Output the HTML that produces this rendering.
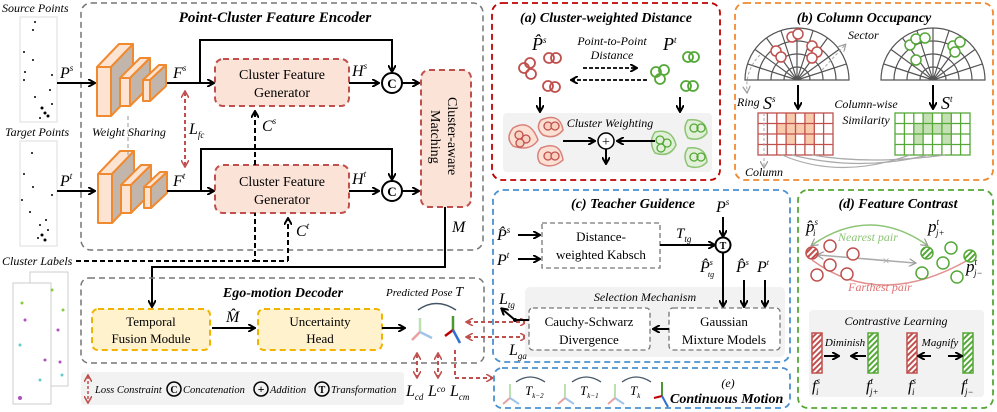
<!DOCTYPE html>
<html><head><meta charset="utf-8"><style>
html,body{margin:0;padding:0;background:#fff}
svg{display:block;font-family:"Liberation Serif",serif}
.i{font-style:italic}
.t{font-style:italic;font-weight:bold}
</style></head><body>
<svg width="997" height="412" viewBox="0 0 997 412" xmlns="http://www.w3.org/2000/svg">
<defs>
<marker id="a" markerWidth="8" markerHeight="8" refX="6" refY="4" orient="auto" markerUnits="userSpaceOnUse"><path d="M0,0 L7,4 L0,8" fill="none" stroke="#000" stroke-width="2"/></marker>
<marker id="r" markerWidth="8" markerHeight="8" refX="6" refY="4" orient="auto-start-reverse" markerUnits="userSpaceOnUse"><path d="M0,0 L7,4 L0,8" fill="none" stroke="#c0504d" stroke-width="1.6"/></marker>
<marker id="g" markerWidth="8" markerHeight="8" refX="6" refY="4" orient="auto-start-reverse" markerUnits="userSpaceOnUse"><path d="M0,0 L7,4 L0,8" fill="none" stroke="#999" stroke-width="1.2"/></marker>
<pattern id="hr" width="4" height="4" patternUnits="userSpaceOnUse" patternTransform="rotate(45)"><rect width="4" height="4" fill="#fff"/><rect width="2" height="4" fill="#c0504d"/></pattern>
<pattern id="hg" width="4" height="4" patternUnits="userSpaceOnUse" patternTransform="rotate(45)"><rect width="4" height="4" fill="#fff"/><rect width="2" height="4" fill="#55a838"/></pattern>
</defs>

<!-- Encoder -->
<rect x="81" y="3" width="402" height="247" rx="10" fill="none" stroke="#777" stroke-width="1.5" stroke-dasharray="6,4"/>
<text x="275" y="22" text-anchor="middle" class="t" font-size="15">Point-Cluster Feature Encoder</text>
<text x="2" y="12" class="i" font-size="12">Source Points</text>
<text x="5" y="136" class="i" font-size="12">Target Points</text>
<rect x="20" y="17" width="37" height="105" fill="#fff" stroke="#ddd"/>
<rect x="20" y="141" width="37" height="105" fill="#fff" stroke="#ddd"/>
<g fill="#000">
<circle cx="35" cy="22" r="1"/><circle cx="33" cy="30" r="1"/><circle cx="24" cy="52" r="1"/><circle cx="33" cy="60" r="1"/><circle cx="25" cy="72" r="1"/><circle cx="24" cy="80" r="1"/><circle cx="52" cy="75" r="1"/><circle cx="50" cy="90" r="1"/><circle cx="35" cy="97" r="1"/><circle cx="42" cy="108" r="1.5"/><circle cx="45" cy="113" r="1.5"/><circle cx="48" cy="116" r="1.5"/><circle cx="40" cy="118" r="1"/><circle cx="52" cy="104" r="1"/>
<circle cx="32" cy="153" r="1"/><circle cx="24" cy="174" r="1"/><circle cx="33" cy="187" r="1"/><circle cx="22" cy="200" r="1"/><circle cx="52" cy="195" r="1"/><circle cx="30" cy="212" r="1"/><circle cx="46" cy="220" r="1"/><circle cx="40" cy="225" r="1"/><circle cx="42" cy="235" r="1.5"/><circle cx="45" cy="240" r="1.5"/><circle cx="38" cy="238" r="1"/><circle cx="48" cy="230" r="1"/>
</g>
<text x="60" y="78" class="i" font-size="16">P<tspan font-size="9" dy="-7">s</tspan></text>
<text x="60" y="186" class="i" font-size="16">P<tspan font-size="9" dy="-7">t</tspan></text>
<line x1="57" y1="83" x2="94" y2="83" stroke="#000" stroke-width="2" marker-end="url(#a)"/>
<line x1="57" y1="191" x2="94" y2="191" stroke="#000" stroke-width="2" marker-end="url(#a)"/>
<g stroke="#f08a30" stroke-width="2" stroke-linejoin="round">
<g id="cnn">
<rect x="97" y="67" width="14" height="49" fill="#fde3d2"/><polygon points="97,67 119,44 133,44 111,67" fill="#fde3d2"/><polygon points="111,67 133,44 133,93 111,116" fill="#c2b5ab"/>
<rect x="120" y="78" width="10" height="28" fill="#fde3d2"/><polygon points="120,78 140,58 150,58 130,78" fill="#fde3d2"/><polygon points="130,78 150,58 150,86 130,106" fill="#c2b5ab"/>
<rect x="143" y="80" width="7" height="21" fill="#fde3d2"/><polygon points="143,80 159,65 166,65 150,80" fill="#fde3d2"/><polygon points="150,80 166,65 166,86 150,101" fill="#c2b5ab"/>
</g>
<use href="#cnn" transform="translate(1,107)"/>
</g>
<line x1="128" y1="116" x2="128" y2="155" stroke="#999" stroke-dasharray="4,3"/>
<text x="92" y="136" class="i" font-size="12">Weight Sharing</text>
<line x1="167" y1="83" x2="213" y2="83" stroke="#000" stroke-width="2" marker-end="url(#a)"/>
<line x1="167" y1="191" x2="213" y2="191" stroke="#000" stroke-width="2" marker-end="url(#a)"/>
<text x="173" y="78" class="i" font-size="16">F<tspan font-size="9" dy="-7">s</tspan></text>
<text x="173" y="186" class="i" font-size="16">F<tspan font-size="9" dy="-7">t</tspan></text>
<polyline points="200,83 200,40 392,40 392,71" fill="none" stroke="#000" stroke-width="2" marker-end="url(#a)"/>
<polyline points="201,191 201,149 392,149 392,179" fill="none" stroke="#000" stroke-width="2" marker-end="url(#a)"/>
<line x1="185" y1="92" x2="185" y2="166" stroke="#c0504d" stroke-width="2" stroke-dasharray="4,3" marker-start="url(#r)" marker-end="url(#r)"/>
<text x="189" y="134" class="i" font-size="16">L<tspan font-size="9" dy="4">fc</tspan></text>
<rect x="215" y="59" width="134" height="47" rx="8" fill="#fbe3d8" stroke="#c0504d" stroke-width="2" stroke-dasharray="6,4"/>
<text x="282" y="79" text-anchor="middle" font-size="14">Cluster Feature</text><text x="282" y="97" text-anchor="middle" font-size="14">Generator</text>
<rect x="215" y="165" width="134" height="48" rx="8" fill="#fbe3d8" stroke="#c0504d" stroke-width="2" stroke-dasharray="6,4"/>
<text x="282" y="186" text-anchor="middle" font-size="14">Cluster Feature</text><text x="282" y="204" text-anchor="middle" font-size="14">Generator</text>
<line x1="255" y1="165" x2="255" y2="112" stroke="#000" stroke-width="2" stroke-dasharray="5,3" marker-end="url(#a)"/>
<text x="262" y="131" class="i" font-size="16">C<tspan font-size="9" dy="-7">s</tspan></text>
<line x1="288" y1="261" x2="288" y2="219" stroke="#000" stroke-width="2" stroke-dasharray="5,3" marker-end="url(#a)"/>
<text x="296" y="236" class="i" font-size="16">C<tspan font-size="9" dy="-7">t</tspan></text>
<polyline points="76,261 255,261 255,213" fill="none" stroke="#000" stroke-width="2" stroke-dasharray="5,3"/>
<line x1="255" y1="261" x2="288" y2="261" stroke="#000" stroke-width="2" stroke-dasharray="5,3"/>
<text x="2" y="265" class="i" font-size="12">Cluster Labels</text>
<line x1="349" y1="83" x2="378" y2="83" stroke="#000" stroke-width="2" marker-end="url(#a)"/>
<line x1="349" y1="191" x2="378" y2="191" stroke="#000" stroke-width="2" marker-end="url(#a)"/>
<text x="352" y="76" class="i" font-size="16">H<tspan font-size="9" dy="-7">s</tspan></text>
<text x="352" y="184" class="i" font-size="16">H<tspan font-size="9" dy="-7">t</tspan></text>
<circle cx="392" cy="83" r="10" fill="#fff" stroke="#000" stroke-width="2"/><text x="392" y="88" text-anchor="middle" font-size="13" font-weight="bold">C</text>
<circle cx="392" cy="191" r="10" fill="#fff" stroke="#000" stroke-width="2"/><text x="392" y="196" text-anchor="middle" font-size="13" font-weight="bold">C</text>
<line x1="402" y1="83" x2="418" y2="83" stroke="#000" stroke-width="2" marker-end="url(#a)"/>
<line x1="402" y1="191" x2="418" y2="191" stroke="#000" stroke-width="2" marker-end="url(#a)"/>
<rect x="421" y="70" width="50" height="137" rx="8" fill="#fbe3d8" stroke="#c0504d" stroke-width="2" stroke-dasharray="6,4"/>
<text transform="translate(448,97) rotate(90)" font-size="14">Cluster-aware</text>
<text transform="translate(431,110) rotate(90)" font-size="14">Matching</text>
<polyline points="445,207 445,267 152,267 152,306" fill="none" stroke="#000" stroke-width="2" marker-end="url(#a)"/>
<text x="452" y="232" class="i" font-size="16">M</text>

<!-- Cluster label images -->
<rect x="30" y="272" width="38" height="114" fill="#fff" stroke="#ccc"/>
<rect x="13" y="283" width="38" height="121" fill="#fff" stroke="#ccc"/>
<g fill="#b04fc0"><circle cx="25" cy="320" r="1.5"/><circle cx="45" cy="360" r="1.5"/><circle cx="58" cy="330" r="1.5"/><circle cx="20" cy="398" r="2"/><circle cx="60" cy="362" r="1.5"/></g>
<g fill="#6cc"><circle cx="20" cy="345" r="1.5"/><circle cx="40" cy="380" r="1.5"/><circle cx="62" cy="375" r="1.5"/></g>
<g fill="#8c4"><circle cx="52" cy="290" r="1.5"/><circle cx="22" cy="303" r="1.5"/><circle cx="63" cy="310" r="1.5"/></g>

<!-- Decoder -->
<rect x="81" y="278" width="403" height="85" rx="8" fill="none" stroke="#777" stroke-width="1.5" stroke-dasharray="6,4"/>
<text x="283" y="297" text-anchor="middle" class="t" font-size="14">Ego-motion Decoder</text>
<rect x="92" y="309" width="118" height="41" rx="6" fill="#fff2cc" stroke="#f0b400" stroke-width="2" stroke-dasharray="6,4"/>
<text x="151" y="326" text-anchor="middle" font-size="13">Temporal</text><text x="151" y="343" text-anchor="middle" font-size="13">Fusion Module</text>
<rect x="258" y="309" width="124" height="41" rx="6" fill="#fff2cc" stroke="#f0b400" stroke-width="2" stroke-dasharray="6,4"/>
<text x="320" y="326" text-anchor="middle" font-size="13">Uncertainty</text><text x="320" y="343" text-anchor="middle" font-size="13">Head</text>
<line x1="212" y1="328" x2="254" y2="328" stroke="#000" stroke-width="2" marker-end="url(#a)"/>
<text x="226" y="322" class="i" font-size="16">M̂</text>
<line x1="382" y1="328" x2="404" y2="328" stroke="#000" stroke-width="2" marker-end="url(#a)"/>
<text x="386" y="296" class="i" font-size="11">Predicted Pose <tspan font-size="14">T</tspan></text>
<path d="M418,310 Q436,297 456,310" fill="none" stroke="#456" stroke-width="1.5"/>
<g stroke-width="2.5">
<line x1="420" y1="332" x2="420" y2="318" stroke="#bde0b0"/><line x1="420" y1="332" x2="412" y2="340" stroke="#e8a0a0"/><line x1="420" y1="332" x2="432" y2="338" stroke="#a0c4ea"/>
<line x1="453" y1="330" x2="453" y2="316" stroke="#4a9a30"/><line x1="453" y1="330" x2="445" y2="336" stroke="#c00000"/><line x1="453" y1="330" x2="460" y2="343" stroke="#2e6fcf"/>
</g>
<line x1="467" y1="322" x2="526" y2="322" stroke="#c0504d" stroke-width="2" stroke-dasharray="4,3" marker-start="url(#r)" marker-end="url(#r)"/>
<line x1="467" y1="337" x2="526" y2="337" stroke="#c0504d" stroke-width="2" stroke-dasharray="4,3" marker-start="url(#r)" marker-end="url(#r)"/>
<line x1="417" y1="354" x2="417" y2="377" stroke="#c0504d" stroke-width="2" stroke-dasharray="4,3" marker-start="url(#r)" marker-end="url(#r)"/>
<line x1="438" y1="354" x2="438" y2="377" stroke="#c0504d" stroke-width="2" stroke-dasharray="4,3" marker-start="url(#r)" marker-end="url(#r)"/>
<polyline points="455,350 455,378 492,378" fill="none" stroke="#c0504d" stroke-width="2" stroke-dasharray="4,3" marker-end="url(#r)"/>
<text x="406" y="396" class="i" font-size="16">L<tspan font-size="9" dy="4">cd</tspan></text>
<text x="428" y="396" class="i" font-size="16">L<tspan font-size="9" dy="-4">co</tspan></text>
<text x="450" y="396" class="i" font-size="16">L<tspan font-size="9" dy="4">cm</tspan></text>

<!-- Legend -->
<rect x="81" y="372" width="323" height="33" rx="3" fill="#f2f2f2"/>
<line x1="88" y1="376" x2="88" y2="402" stroke="#c0504d" stroke-width="1.5" stroke-dasharray="3,2" marker-start="url(#r)" marker-end="url(#r)"/>
<text x="95" y="393" class="i" font-size="10.5">Loss Constraint</text>
<circle cx="174" cy="389" r="7" fill="none" stroke="#000" stroke-width="1.5"/><text x="174" y="393" text-anchor="middle" font-size="10" font-weight="bold">C</text>
<text x="183" y="393" class="i" font-size="10.5">Concatenation</text>
<circle cx="261" cy="389" r="7" fill="none" stroke="#000" stroke-width="1.5"/><text x="261" y="393" text-anchor="middle" font-size="12" font-weight="bold">+</text>
<text x="270" y="393" class="i" font-size="10.5">Addition</text>
<circle cx="322" cy="389" r="7" fill="none" stroke="#000" stroke-width="1.5"/><text x="322" y="393" text-anchor="middle" font-size="10" font-weight="bold">T</text>
<text x="331" y="393" class="i" font-size="10.5">Transformation</text>

<!-- (a) -->
<rect x="492" y="3" width="228" height="177" rx="10" fill="none" stroke="#c00000" stroke-width="1.8" stroke-dasharray="6,4"/>
<text x="606" y="22" text-anchor="middle" class="t" font-size="14" font-weight="normal">(a) Cluster-weighted Distance</text>
<text x="532" y="50" class="i" font-size="18">P̂<tspan font-size="9" dy="-7">s</tspan></text>
<text x="663" y="50" class="i" font-size="18">P<tspan font-size="9" dy="-7">t</tspan></text>
<text x="612" y="45" text-anchor="middle" class="i" font-size="12">Point-to-Point</text>
<text x="612" y="59" text-anchor="middle" class="i" font-size="12">Distance</text>
<line x1="583" y1="68" x2="636" y2="68" stroke="#000" stroke-width="1.8" stroke-dasharray="4,2" marker-end="url(#a)"/>
<line x1="647" y1="80" x2="572" y2="80" stroke="#000" stroke-width="1.8" stroke-dasharray="4,2" marker-end="url(#a)"/>
<g fill="none" stroke="#c0504d" stroke-width="1.8">
<circle cx="524" cy="68" r="5"/><circle cx="530" cy="63" r="5"/><circle cx="531" cy="74" r="5"/><circle cx="549" cy="58" r="5"/><circle cx="556" cy="58" r="5"/><circle cx="548" cy="86" r="5"/><circle cx="555" cy="87" r="5"/>
</g>
<g fill="none" stroke="#55a838" stroke-width="1.8">
<circle cx="688" cy="57" r="5"/><circle cx="694" cy="57" r="5"/><circle cx="656" cy="72" r="5"/><circle cx="664" cy="70" r="5"/><circle cx="660" cy="79" r="5"/><circle cx="686" cy="86" r="5"/><circle cx="693" cy="86" r="5"/>
</g>
<line x1="540" y1="97" x2="540" y2="111" stroke="#000" stroke-width="2" marker-end="url(#a)"/>
<line x1="680" y1="97" x2="680" y2="111" stroke="#000" stroke-width="2" marker-end="url(#a)"/>
<rect x="503" y="113" width="209" height="59" rx="4" fill="#f2f2f2"/>
<text x="610" y="127" text-anchor="middle" class="i" font-size="12">Cluster Weighting</text>
<g fill="#fce0d4" stroke="#d9827a" stroke-width="1.5">
<path d="M513,128 Q530,118 538,140 Q530,152 513,146 Q505,138 513,128Z"/><path d="M541,120 Q560,112 563,130 Q555,140 543,135 Q535,128 541,120Z"/><path d="M541,148 Q560,140 563,160 Q552,170 540,163 Q535,155 541,148Z"/>
</g>
<g fill="#f8d0c0" stroke="#c0504d" stroke-width="1.3">
<circle cx="519" cy="135" r="4"/><circle cx="526" cy="139" r="4"/><circle cx="520" cy="143" r="4"/><circle cx="548" cy="126" r="4"/><circle cx="555" cy="126" r="4"/><circle cx="548" cy="156" r="4"/><circle cx="555" cy="156" r="4"/>
</g>
<g fill="#e2f0da" stroke="#8cc474" stroke-width="1.5">
<path d="M655,132 Q672,128 676,145 Q670,158 655,153 Q648,142 655,132Z"/><path d="M688,120 Q706,118 707,133 Q700,142 688,138 Q682,128 688,120Z"/><path d="M688,148 Q706,146 707,162 Q700,170 688,166 Q682,156 688,148Z"/>
</g>
<g fill="none" stroke="#55a838" stroke-width="1.3">
<circle cx="660" cy="140" r="4"/><circle cx="667" cy="143" r="4"/><circle cx="661" cy="148" r="4"/><circle cx="694" cy="128" r="4"/><circle cx="701" cy="128" r="4"/><circle cx="694" cy="157" r="4"/><circle cx="701" cy="157" r="4"/>
</g>
<line x1="563" y1="141" x2="594" y2="141" stroke="#000" stroke-width="2" marker-end="url(#a)"/>
<line x1="655" y1="141" x2="618" y2="141" stroke="#000" stroke-width="2" marker-end="url(#a)"/>
<circle cx="606" cy="141" r="8" fill="#fff" stroke="#000" stroke-width="1.5"/><text x="606" y="146" text-anchor="middle" font-size="14">+</text>
<line x1="606" y1="149" x2="606" y2="163" stroke="#000" stroke-width="2" marker-end="url(#a)"/>

<!-- (b) -->
<rect x="735" y="3" width="258" height="177" rx="10" fill="none" stroke="#f08a30" stroke-width="1.8" stroke-dasharray="6,4"/>
<text x="864" y="22" text-anchor="middle" class="i" font-size="14" font-weight="bold">(b) Column Occupancy</text>
<g id="semi" fill="none" stroke="#555" stroke-width="1.2">
<path d="M745,80 A52,52 0 0 1 849,80 Z"/>
<path d="M758,80 A39,39 0 0 1 836,80"/><path d="M771,80 A26,26 0 0 1 823,80"/><path d="M784,80 A13,13 0 0 1 810,80"/>
<path d="M797,80 L846.5,63.9 M797,80 L839.1,49.4 M797,80 L827.6,37.9 M797,80 L813.1,30.5 M797,80 L797,28 M797,80 L780.9,30.5 M797,80 L766.4,37.9 M797,80 L754.9,49.4 M797,80 L747.5,63.9"/>
</g>
<use href="#semi" transform="translate(136,0)"/>
<g fill="#fff" stroke="#c0504d" stroke-width="1.5"><circle cx="792" cy="37" r="5"/><circle cx="798" cy="34" r="5"/><circle cx="776" cy="51" r="5"/><circle cx="781" cy="57" r="5"/><circle cx="812" cy="46" r="5"/><circle cx="817" cy="52" r="5"/><circle cx="812" cy="58" r="5"/></g>
<g fill="#fff" stroke="#55a838" stroke-width="1.5"><circle cx="910" cy="45" r="5"/><circle cx="916" cy="39" r="5"/><circle cx="925" cy="38" r="5"/><circle cx="953" cy="46" r="5"/><circle cx="960" cy="42" r="5"/><circle cx="955" cy="52" r="5"/><circle cx="916" cy="60" r="5"/></g>
<line x1="822" y1="70" x2="845" y2="45" stroke="#aaa" stroke-dasharray="3,2" marker-end="url(#g)"/>
<text x="848" y="39" class="i" font-size="12">Sector</text>
<path d="M760,55 Q745,70 747,92" fill="none" stroke="#aaa" stroke-dasharray="3,2" marker-end="url(#g)"/>
<text x="737" y="106" class="i" font-size="12">Ring</text>
<line x1="798" y1="85" x2="798" y2="108" stroke="#000" stroke-width="2" marker-end="url(#a)"/>
<line x1="933" y1="85" x2="933" y2="108" stroke="#000" stroke-width="2" marker-end="url(#a)"/>
<text x="763" y="109" class="i" font-size="18">S<tspan font-size="9" dy="-7">s</tspan></text>
<text x="941" y="109" class="i" font-size="18">S<tspan font-size="9" dy="-7">t</tspan></text>
<text x="866" y="108" text-anchor="middle" class="i" font-size="12">Column-wise</text>
<text x="866" y="124" text-anchor="middle" class="i" font-size="12">Similarity</text>
<g fill="#f8cbad"><rect x="786" y="113" width="9.4" height="10.5"/><rect x="805" y="113" width="9.4" height="10.5"/><rect x="777" y="123.5" width="28" height="10.5"/><rect x="805" y="123.5" width="9.4" height="21"/><rect x="786" y="134" width="9.4" height="10.5"/></g>
<g fill="#c5e0b4"><rect x="923" y="113" width="9.4" height="10.5"/><rect x="942" y="113" width="9.4" height="10.5"/><rect x="914" y="123.5" width="28" height="10.5"/><rect x="942" y="123.5" width="9.4" height="21"/><rect x="914" y="134" width="9.4" height="10.5"/></g>
<g fill="none" stroke="#c0504d" stroke-width="1.3">
<rect x="758" y="113" width="75" height="42"/>
<path d="M767.4,113V155M776.8,113V155M786.1,113V155M795.5,113V155M804.9,113V155M814.3,113V155M823.6,113V155M758,123.5H833M758,134H833M758,144.5H833"/>
</g>
<g fill="none" stroke="#55a838" stroke-width="1.3">
<rect x="895" y="113" width="75" height="42"/>
<path d="M904.4,113V155M913.8,113V155M923.1,113V155M932.5,113V155M941.9,113V155M951.3,113V155M960.6,113V155M895,123.5H970M895,134H970M895,144.5H970"/>
</g>
<line x1="764" y1="113" x2="764" y2="167" stroke="#aaa" stroke-dasharray="3,2" marker-end="url(#g)"/>
<text x="745" y="176" class="i" font-size="12">Column</text>
<g fill="none" stroke="#aaa" stroke-width="1.2"><path d="M782,155 Q840,180 910,155"/><path d="M792,155 Q860,172 928,155"/><path d="M812,155 Q870,165 945,155"/></g>

<!-- (c) -->
<rect x="493" y="190" width="297" height="172" rx="10" fill="none" stroke="#4a90d0" stroke-width="1.8" stroke-dasharray="6,4"/>
<text x="633" y="208" text-anchor="middle" class="i" font-size="14" font-weight="bold">(c) Teacher Guidence</text>
<text x="497" y="240" class="i" font-size="16">P̂<tspan font-size="9" dy="-7">s</tspan></text>
<text x="497" y="265" class="i" font-size="16">P<tspan font-size="9" dy="-7">t</tspan></text>
<line x1="518" y1="235" x2="539" y2="235" stroke="#000" stroke-width="2" marker-end="url(#a)"/>
<line x1="518" y1="259" x2="539" y2="259" stroke="#000" stroke-width="2" marker-end="url(#a)"/>
<rect x="542" y="223" width="118" height="45" fill="none" stroke="#777" stroke-width="1.3" stroke-dasharray="5,3"/>
<text x="601" y="241" text-anchor="middle" font-size="13">Distance-</text><text x="601" y="259" text-anchor="middle" font-size="13">weighted Kabsch</text>
<line x1="660" y1="245" x2="714" y2="245" stroke="#000" stroke-width="2" marker-end="url(#a)"/>
<text x="676" y="238" class="i" font-size="15">T<tspan font-size="9" dy="4">tg</tspan></text>
<text x="716" y="212" class="i" font-size="16">P<tspan font-size="9" dy="-7">s</tspan></text>
<line x1="723" y1="217" x2="723" y2="236" stroke="#000" stroke-width="2" marker-end="url(#a)"/>
<circle cx="723" cy="245" r="7.5" fill="#fff" stroke="#000" stroke-width="2"/><text x="723" y="249" text-anchor="middle" font-size="10" font-weight="bold">T</text>
<rect x="525" y="287" width="260" height="70" rx="5" fill="#f2f2f2"/>
<text x="645" y="301" text-anchor="middle" class="i" font-size="12">Selection Mechanism</text>
<line x1="723" y1="253" x2="723" y2="306" stroke="#000" stroke-width="2" marker-end="url(#a)"/>
<line x1="744" y1="280" x2="744" y2="306" stroke="#000" stroke-width="2" marker-end="url(#a)"/>
<line x1="765" y1="280" x2="765" y2="306" stroke="#000" stroke-width="2" marker-end="url(#a)"/>
<text x="700" y="272" class="i" font-size="16">P̂<tspan font-size="8" dy="-7">s</tspan><tspan font-size="8" dx="-5" dy="12">tg</tspan></text>
<text x="736" y="272" class="i" font-size="16">P̂<tspan font-size="8" dy="-7">s</tspan></text>
<text x="757" y="272" class="i" font-size="16">P<tspan font-size="8" dy="-7">t</tspan></text>
<rect x="529" y="308" width="121" height="42" rx="4" fill="#fff" stroke="#777" stroke-width="1.3" stroke-dasharray="5,3"/>
<text x="589" y="326" text-anchor="middle" font-size="13">Cauchy-Schwarz</text><text x="589" y="344" text-anchor="middle" font-size="13">Divergence</text>
<rect x="669" y="308" width="111" height="42" rx="4" fill="#fff" stroke="#777" stroke-width="1.3" stroke-dasharray="5,3"/>
<text x="724" y="326" text-anchor="middle" font-size="13">Gaussian</text><text x="724" y="344" text-anchor="middle" font-size="13">Mixture Models</text>
<line x1="669" y1="329" x2="654" y2="329" stroke="#000" stroke-width="2" marker-end="url(#a)"/>
<line x1="529" y1="320" x2="515" y2="320" stroke="#000" stroke-width="2"/>
<circle cx="515" cy="320" r="2" fill="#000"/>
<line x1="515" y1="320" x2="502" y2="309" stroke="#000" stroke-width="2" marker-end="url(#a)"/>
<text x="499" y="304" class="i" font-size="16">L<tspan font-size="9" dy="4">tg</tspan></text>
<text x="509" y="355" class="i" font-size="16">L<tspan font-size="9" dy="4">ga</tspan></text>

<!-- (e) -->
<rect x="494" y="368" width="296" height="40" rx="8" fill="none" stroke="#4a90d0" stroke-width="1.8" stroke-dasharray="6,4"/>
<g stroke-width="2" fill="none">
<path d="M516,382 Q530,372 545,382" stroke="#456" stroke-width="1.3"/><path d="M572,382 Q586,372 601,382" stroke="#456" stroke-width="1.3"/><path d="M622,382 Q636,372 651,382" stroke="#456" stroke-width="1.3"/>
<g id="ax1"><line x1="510" y1="398" x2="510" y2="384" stroke="#bde0b0"/><line x1="510" y1="398" x2="503" y2="404" stroke="#e8a0a0"/><line x1="510" y1="398" x2="519" y2="404" stroke="#a0c4ea"/></g>
<use href="#ax1" transform="translate(55,0)"/><use href="#ax1" transform="translate(105,0)"/>
<line x1="662" y1="396" x2="662" y2="382" stroke="#4a9a30"/><line x1="662" y1="396" x2="654" y2="398" stroke="#c00000"/><line x1="662" y1="396" x2="668" y2="407" stroke="#2e6fcf"/>
</g>
<text x="525" y="395" class="i" font-size="13">T<tspan font-size="7" dy="3">k−2</tspan></text>
<text x="580" y="395" class="i" font-size="13">T<tspan font-size="7" dy="3">k−1</tspan></text>
<text x="630" y="395" class="i" font-size="13">T<tspan font-size="7" dy="3">k</tspan></text>
<text x="728" y="387" text-anchor="middle" class="i" font-size="12">(e)</text>
<text x="670" y="403" class="t" font-size="14">Continuous Motion</text>

<!-- (d) -->
<rect x="798" y="190" width="195" height="218" rx="10" fill="none" stroke="#55a838" stroke-width="1.8" stroke-dasharray="6,4"/>
<text x="898" y="208" text-anchor="middle" class="i" font-size="14" font-weight="bold">(d) Feature Contrast</text>
<text x="806" y="232" class="i" font-size="17">p̂<tspan font-size="9" dy="-7">s</tspan><tspan font-size="9" dx="-5" dy="11">i</tspan></text>
<text x="928" y="232" class="i" font-size="17">p<tspan font-size="9" dy="-7">t</tspan><tspan font-size="9" dx="-3" dy="11">j+</tspan></text>
<text x="966" y="272" class="i" font-size="17">p<tspan font-size="9" dy="-7">t</tspan><tspan font-size="9" dx="-3" dy="11">j−</tspan></text>
<path d="M812,245 Q870,205 927,245" fill="none" stroke="#8cc474" stroke-width="1.5" marker-start="url(#g)" marker-end="url(#g)"/>
<text x="868" y="241" text-anchor="middle" class="i" font-size="12" fill="#8cc474">Nearest pair</text>
<path d="M812,260 Q880,310 968,260" fill="none" stroke="#e09090" stroke-width="1.5"/>
<text x="880" y="291" text-anchor="middle" class="i" font-size="12" fill="#e07070">Farthest pair</text>
<line x1="818" y1="255" x2="915" y2="263" stroke="#aaa" stroke-width="1.5" marker-start="url(#g)" marker-end="url(#g)"/>
<text x="886" y="265" text-anchor="middle" font-size="13" fill="#aaa">×</text>
<circle cx="812" cy="253" r="6" fill="url(#hr)" stroke="#c0504d" stroke-width="1.5"/>
<circle cx="927" cy="253" r="6" fill="url(#hg)" stroke="#55a838" stroke-width="1.5"/><circle cx="970" cy="256" r="6" fill="url(#hg)" stroke="#55a838" stroke-width="1.5"/>
<g fill="#fff" stroke="#c0504d" stroke-width="1.5"><circle cx="830" cy="246" r="6"/><circle cx="853" cy="254" r="6"/><circle cx="830" cy="265" r="6"/><circle cx="847" cy="274" r="6"/><circle cx="817" cy="275" r="6"/></g>
<g fill="#fff" stroke="#55a838" stroke-width="1.5"><circle cx="951" cy="248" r="6"/><circle cx="943" cy="263" r="6"/><circle cx="922" cy="273" r="6"/><circle cx="957" cy="277" r="6"/></g>
<rect x="809" y="310" width="175" height="87" rx="4" fill="#f2f2f2"/>
<text x="896" y="325" text-anchor="middle" class="i" font-size="12">Contrastive Learning</text>
<rect x="812" y="333" width="10" height="40" fill="url(#hr)" stroke="#c0504d" stroke-width="1.5"/><rect x="907" y="333" width="10" height="40" fill="url(#hr)" stroke="#c0504d" stroke-width="1.5"/>
<rect x="868" y="333" width="10" height="40" fill="url(#hg)" stroke="#55a838" stroke-width="1.5"/><rect x="963" y="333" width="10" height="40" fill="url(#hg)" stroke="#55a838" stroke-width="1.5"/>
<text x="845" y="346" text-anchor="middle" class="i" font-size="11">Diminish</text>
<text x="940" y="346" text-anchor="middle" class="i" font-size="11">Magnify</text>
<line x1="824" y1="356" x2="838" y2="356" stroke="#000" stroke-width="2" marker-end="url(#a)"/>
<line x1="866" y1="356" x2="852" y2="356" stroke="#000" stroke-width="2" marker-end="url(#a)"/>
<line x1="931" y1="356" x2="919" y2="356" stroke="#000" stroke-width="2" marker-end="url(#a)"/>
<line x1="948" y1="356" x2="961" y2="356" stroke="#000" stroke-width="2" marker-end="url(#a)"/>
<text x="812" y="391" class="i" font-size="16">f<tspan font-size="9" dy="-7">s</tspan><tspan font-size="9" dx="-4" dy="11">i</tspan></text>
<text x="866" y="391" class="i" font-size="16">f<tspan font-size="9" dy="-7">t</tspan><tspan font-size="9" dx="-3" dy="11">j+</tspan></text>
<text x="908" y="391" class="i" font-size="16">f<tspan font-size="9" dy="-7">s</tspan><tspan font-size="9" dx="-4" dy="11">i</tspan></text>
<text x="961" y="391" class="i" font-size="16">f<tspan font-size="9" dy="-7">t</tspan><tspan font-size="9" dx="-3" dy="11">j−</tspan></text>
</svg>
</body></html>
